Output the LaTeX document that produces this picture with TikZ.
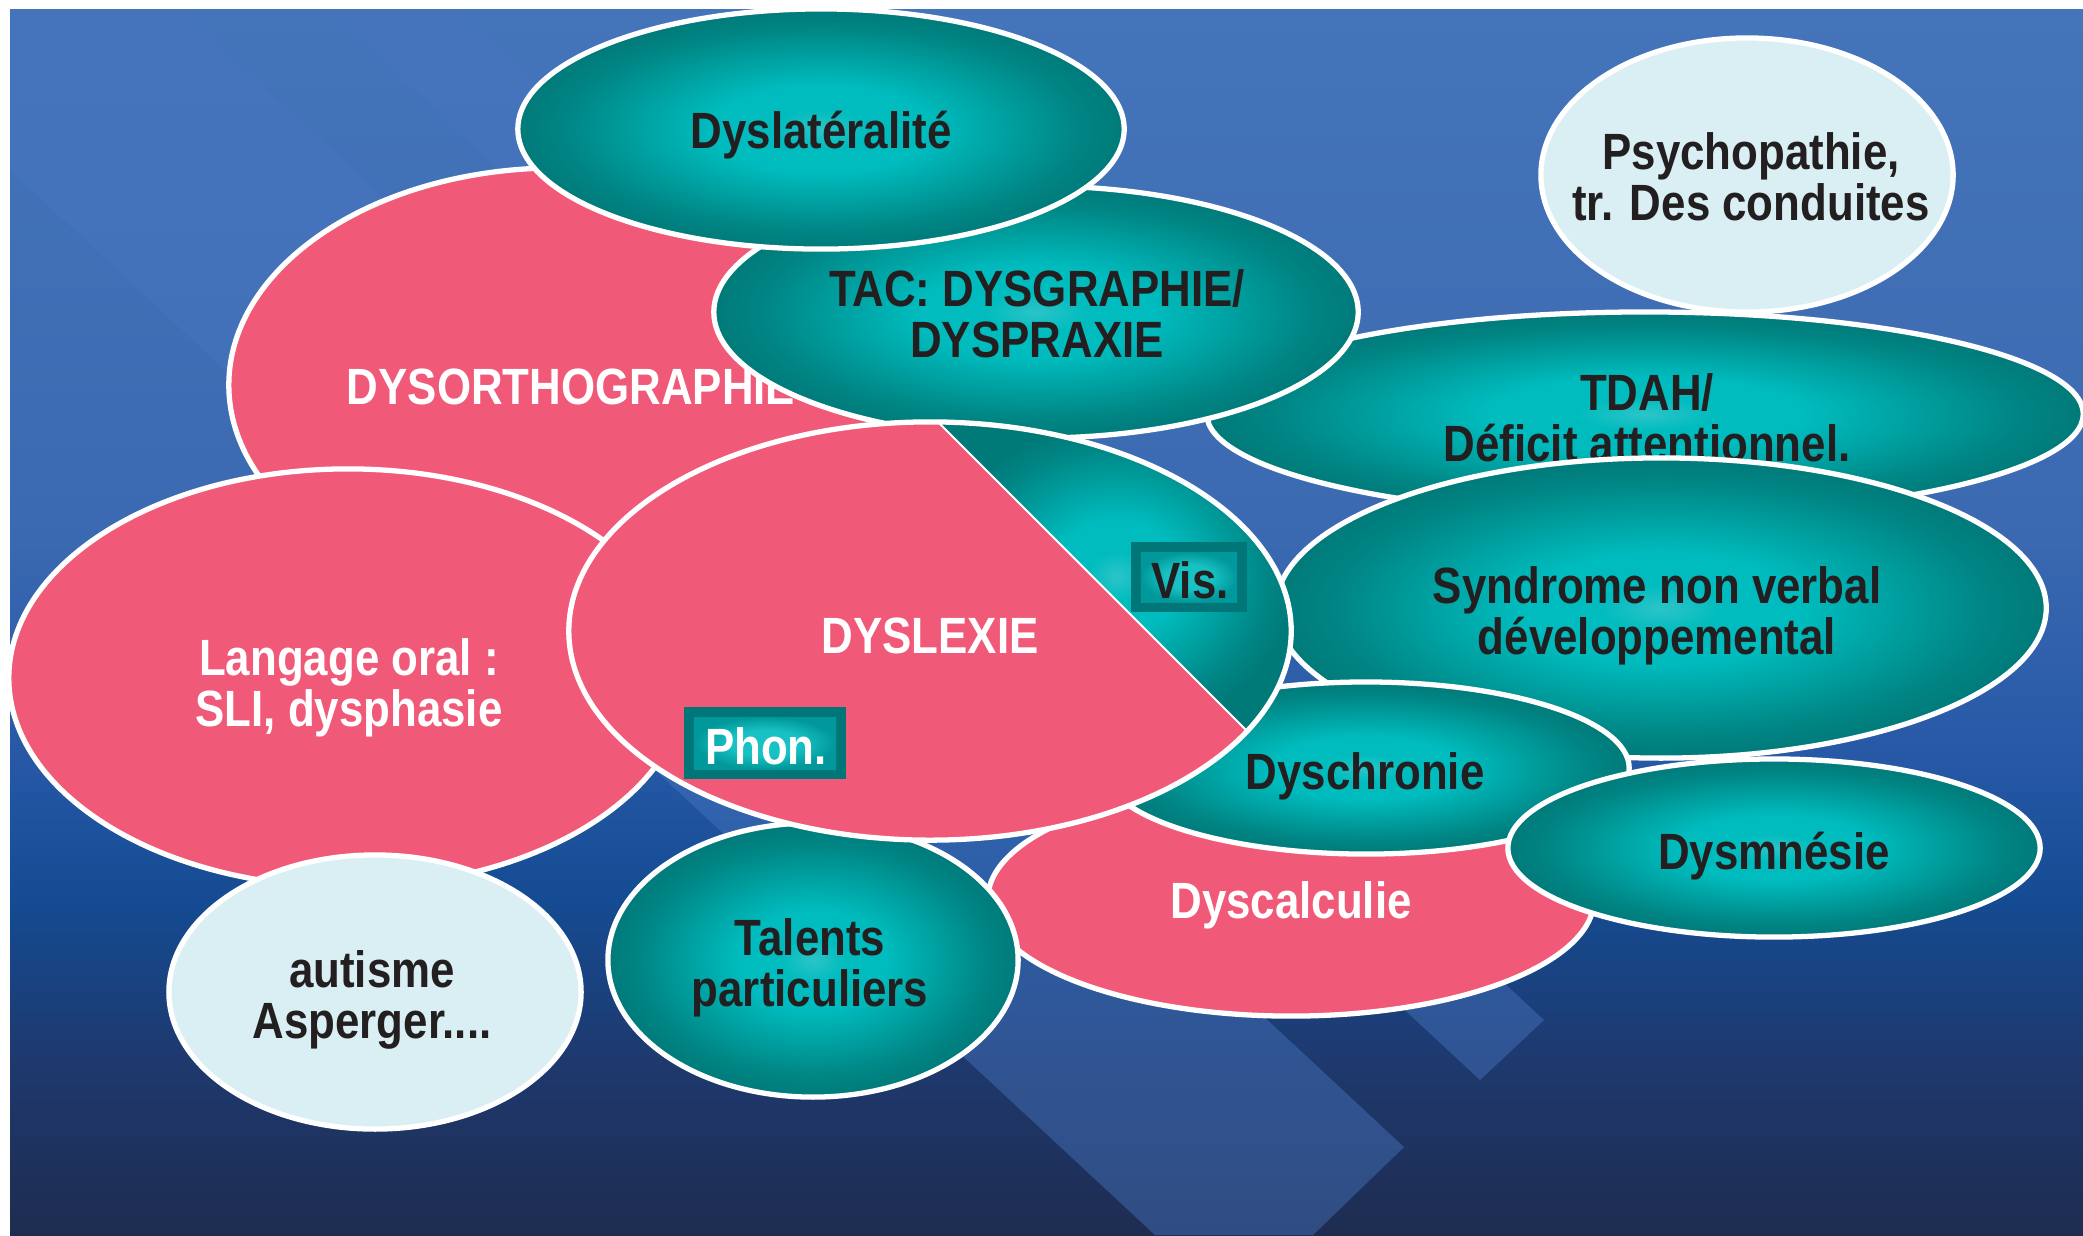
\documentclass[tikz,border=0pt]{standalone}
\usepackage{fontspec}
\setmainfont{Liberation Sans}[FakeStretch=0.86]
\usetikzlibrary{shapes.geometric}
\definecolor{pinkc}{RGB}{240,89,119}
\definecolor{tcen}{RGB}{44,196,200}
\definecolor{tbri}{RGB}{0,188,190}
\definecolor{tdark}{RGB}{0,134,133}
\definecolor{tdarkb}{RGB}{0,122,121}
\definecolor{lightc}{RGB}{218,239,243}
\definecolor{txtdark}{RGB}{35,31,32}
\definecolor{bandc}{RGB}{72,118,192}
\definecolor{bgA}{RGB}{68,116,186}
\definecolor{bgB}{RGB}{60,106,178}
\definecolor{bgC}{RGB}{38,88,166}
\definecolor{bgD}{RGB}{20,75,146}
\definecolor{bgE}{RGB}{30,58,112}
\definecolor{bgF}{RGB}{30,44,80}
\definecolor{boxdark}{RGB}{0,118,120}
\definecolor{boxin}{RGB}{24,194,196}
\definecolor{boxout}{RGB}{0,152,154}
\pgfdeclareradialshading{tealsh}{\pgfpoint{0bp}{0bp}}{color(0bp)=(tcen); color(4bp)=(tbri); color(9bp)=(tbri); color(21bp)=(tdark); color(25bp)=(tdarkb); color(50bp)=(tdarkb)}
\pgfdeclareradialshading{boxsh}{\pgfpoint{0bp}{0bp}}{color(0bp)=(boxin); color(12bp)=(boxin); color(25bp)=(boxout); color(50bp)=(boxout)}
\tikzset{
  blob/.style={ellipse, draw=white, line width=1.5pt, inner sep=0pt, outer sep=0pt},
  pinkblob/.style={blob, fill=pinkc},
  tealblob/.style={blob, shade, shading=tealsh},
  lightblob/.style={blob, fill=lightc},
  lbl/.style={font=\bfseries\fontsize{14.5}{14.6}\selectfont, align=center, inner sep=0pt},
  wlbl/.style={lbl, text=white},
  dlbl/.style={lbl, text=txtdark},
  boxframe/.style={rectangle, fill=boxdark, inner sep=0pt, outer sep=0pt},
  boxinner/.style={rectangle, shade, shading=boxsh, inner sep=0pt, outer sep=0pt},
  band/.style={fill=bandc, fill opacity=0.45}
}
\begin{document}
\begin{tikzpicture}[x=0.01cm, y=-0.01cm]
\useasboundingbox (0,0) rectangle (2083,1235);
\clip (0,0) rectangle (2083,1235);
\fill[white] (0,0) rectangle (2083,1235);
% background gradient
\shade[top color=bgA, bottom color=bgB] (10,9) rectangle (2083,521);
\shade[top color=bgB, bottom color=bgC] (10,520) rectangle (2083,761);
\shade[top color=bgC, bottom color=bgD] (10,760) rectangle (2083,901);
\shade[top color=bgD, bottom color=bgE] (10,900) rectangle (2083,1051);
\shade[top color=bgE, bottom color=bgF] (10,1050) rectangle (2083,1235);
% light diagonal bands
\begin{scope}
\clip (10,9) rectangle (2083,1235);
\fill[band] (-163,9) -- (180,9) -- (1404,1147) -- (1313,1235) -- (1155,1235) -- cycle;
\fill[band] (328,9) -- (457,9) -- (1544,1020) -- (1480,1080) -- cycle;
\end{scope}

% DYSORTHOGRAPHIE
\node[pinkblob, minimum width=6.58cm, minimum height=4.34cm] (dysortho) at (558,385) {};
\node[wlbl] (dysortho-t) at (571,387) {DYSORTHOGRAPHIE};
% Langage oral
\node[pinkblob, minimum width=6.78cm, minimum height=4.18cm] (langage) at (348,678) {};
\node[wlbl] (langage-t) at (349,688) {Langage oral :\\SLI, dysphasie};
% TDAH
\node[tealblob, minimum width=8.76cm, minimum height=2.04cm] (tdah) at (1645,414) {};
\node[dlbl] (tdah-t) at (1647,418) {TDAH/\\Déficit attentionnel.};
% Syndrome non verbal
\node[tealblob, minimum width=7.70cm, minimum height=3.00cm] (snv) at (1661,608) {};
\node[dlbl] (snv-t) at (1657,616) {Syndrome non verbal\\développemental};
% TAC
\node[tealblob, minimum width=6.44cm, minimum height=2.52cm] (tac) at (1036,312) {};
\node[dlbl] (tac-t) at (1037,314) {TAC: DYSGRAPHIE/\\DYSPRAXIE};
% Dyslateralite
\node[tealblob, minimum width=6.06cm, minimum height=2.40cm] (dyslat) at (821,129) {};
\node[dlbl] (dyslat-t) at (821,135) {Dyslatéralité};
% Psychopathie
\node[lightblob, minimum width=4.12cm, minimum height=2.74cm] (psycho) at (1747,175) {};
\node[dlbl] (psycho-t) at (1751,177) {Psychopathie,\\tr. Des conduites};
% Dyscalculie
\node[pinkblob, minimum width=6.06cm, minimum height=2.34cm] (dyscalc) at (1291,899) {};
\node[wlbl] (dyscalc-t) at (1291,905) {Dyscalculie};
% Dyschronie
\node[tealblob, minimum width=5.26cm, minimum height=1.72cm] (dyschr) at (1366,768) {};
\node[dlbl] (dyschr-t) at (1365,776) {Dyschronie};
% Dysmnesie
\node[tealblob, minimum width=5.32cm, minimum height=1.78cm] (dysmn) at (1774,848) {};
\node[dlbl] (dysmn-t) at (1774,856) {Dysmnésie};
% Talents
\node[tealblob, minimum width=4.10cm, minimum height=2.74cm] (talents) at (813,960) {};
\node[dlbl] (talents-t) at (810,968) {Talents\\particuliers};
% autisme
\node[lightblob, minimum width=4.12cm, minimum height=2.74cm] (autisme) at (375,992) {};
\node[dlbl] (autisme-t) at (372,1000) {autisme\\Asperger....};
% DYSLEXIE with visual wedge
\node[ellipse, fill=pinkc, inner sep=0pt, outer sep=0pt, minimum width=7.22cm, minimum height=4.18cm] (dyslexie) at (930,631) {};
\path[shade, shading=tealsh] (938,422) arc[start angle=-88.7, end angle=28.5, x radius=361, y radius=209] -- cycle;
\draw[white, line width=0.6pt] (938,422) -- (1247,731);
\node[blob, minimum width=7.22cm, minimum height=4.18cm] (dyslexie-o) at (930,631) {};
\node[wlbl] (dyslexie-t) at (930,636) {DYSLEXIE};
% Phon. box
\node[boxframe, minimum width=1.62cm, minimum height=0.72cm] (phon) at (765,743) {};
\node[boxinner, minimum width=1.42cm, minimum height=0.52cm] (phon-i) at (phon.center) {};
\node[wlbl] (phon-t) at (766,746) {Phon.};
% Vis. box
\node[boxframe, minimum width=1.16cm, minimum height=0.70cm] (vis) at (1189,577) {};
\node[boxinner, minimum width=0.96cm, minimum height=0.50cm] (vis-i) at (vis.center) {};
\node[dlbl] (vis-t) at (1190,580) {Vis.};
\end{tikzpicture}
\end{document}
